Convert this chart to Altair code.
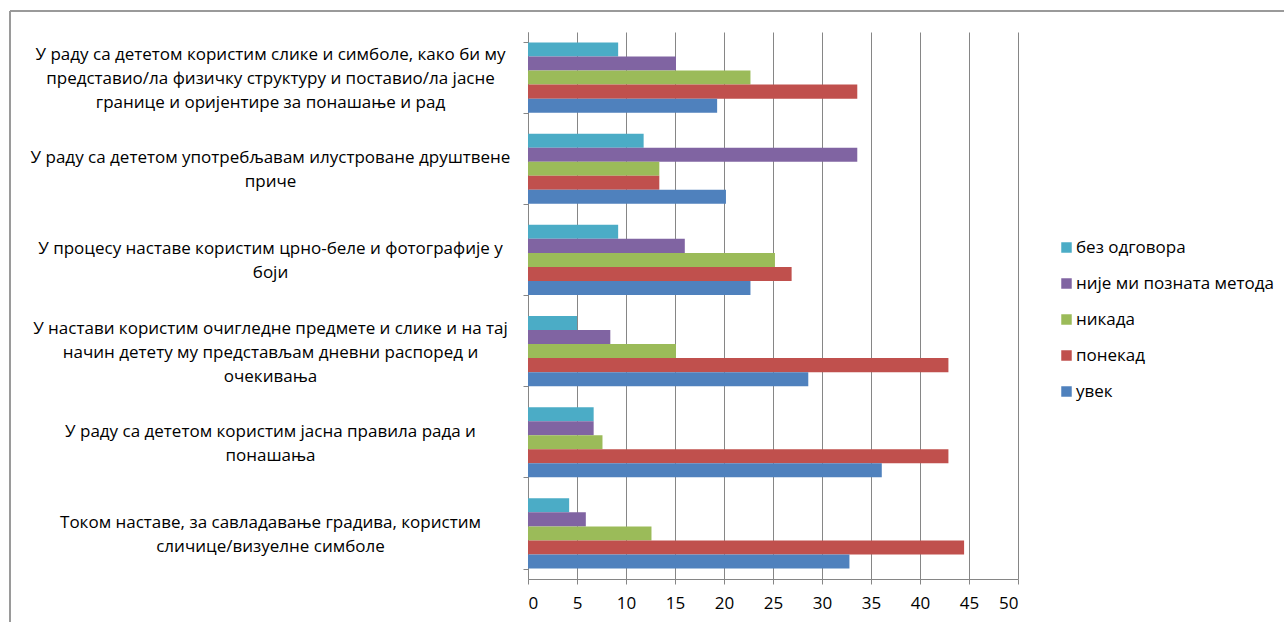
import altair as alt
import pandas as pd

# Survey statements (line breaks mark how each label wraps)
items = [
    "У раду са дететом користим слике и симболе, како би му\nпредставио/ла физичку структуру и поставио/ла јасне\nгранице и оријентире за понашање и рад",
    "У раду са дететом употребљавам илустроване друштвене\nприче",
    "У процесу наставе користим црно-беле и фотографије у\nбоји",
    "У настави користим очигледне предмете и слике и на тај\nначин детету му представљам дневни распоред и\nочекивања",
    "У раду са дететом користим јасна правила рада и\nпонашања",
    "Током наставе, за савладавање градива, користим\nсличице/визуелне симболе",
]

series = ["без одговора", "није ми позната метода", "никада", "понекад", "увек"]
colors = ["#4BACC6", "#8064A2", "#9BBB59", "#C0504D", "#4F81BD"]

# Percentages per answer, one value per statement (same order as items)
bez_odgovora = [9.2, 11.8, 9.2, 5.0, 6.7, 4.2]
nije_poznata = [15.1, 33.6, 16.0, 8.4, 6.7, 5.9]
nikada = [22.7, 13.4, 25.2, 15.1, 7.6, 12.6]
ponekad = [33.6, 13.4, 26.9, 42.9, 42.9, 44.5]
uvek = [19.3, 20.2, 22.7, 28.6, 36.1, 32.8]

x_ticks = [0, 5, 10, 15, 20, 25, 30, 35, 40, 45, 50]

rows = []
for name, vals in zip(series, [bez_odgovora, nije_poznata, nikada, ponekad, uvek]):
    for item, v in zip(items, vals):
        rows.append({"item": item, "answer": name, "value": v})
df = pd.DataFrame(rows)

FONT = "Open Sans"
AXIS_GRAY = "#868686"
LINE_H = 24

# shift multi-line labels up so each block is centred on its band
n_lines = "length(split(datum.label, '\\n'))"
label_offset = {
    "condition": {"test": f"{n_lines} == 3", "value": -LINE_H + 1},
    "value": -LINE_H / 2 + 1,
}

bars = alt.Chart(df).mark_bar().encode(
    x=alt.X(
        "value:Q",
        scale=alt.Scale(domain=[0, 50], nice=False),
        axis=alt.Axis(
            values=x_ticks,
            title=None,
            grid=True,
            gridColor=AXIS_GRAY,
            gridWidth=1,
            domainColor=AXIS_GRAY,
            tickColor=AXIS_GRAY,
            tickSize=5,
            labelFontSize=17,
            labelPadding=11,
            labelColor="#000000",
            labelFont=FONT,
        ),
    ),
    y=alt.Y(
        "item:N",
        sort=items,
        scale=alt.Scale(paddingInner=0.23, paddingOuter=0.115),
        axis=alt.Axis(
            title=None,
            domainColor=AXIS_GRAY,
            tickColor=AXIS_GRAY,
            tickSize=5,
            tickBand="extent",
            labelAlign="center",
            labelBaseline="middle",
            labelPadding=253,
            labelLimit=700,
            labelFontSize=17,
            labelLineHeight=LINE_H,
            labelOffset=label_offset,
            labelFont=FONT,
            labelColor="#000000",
            labelExpr="split(datum.label, '\\n')",
        ),
    ),
    yOffset=alt.YOffset(
        "answer:N",
        sort=series,
        scale=alt.Scale(paddingInner=0, paddingOuter=0),
    ),
    color=alt.Color(
        "answer:N",
        sort=series,
        scale=alt.Scale(domain=series, range=colors),
        legend=alt.Legend(
            title=None,
            orient="none",
            legendX=530,
            legendY=207,
            symbolType="square",
            symbolSize=110,
            symbolStrokeWidth=0,
            labelFontSize=17,
            labelFont=FONT,
            labelColor="#000000",
            labelOffset=1,
            labelLimit=400,
            rowPadding=18,
            padding=0,
        ),
    ),
)

# Outer frame of the chart
frame_left = alt.Chart(df).mark_rule(color="#9a9a9a", strokeWidth=1.5).encode(
    x=alt.value(-518), y=alt.value(-21), y2=alt.value(600)
)
frame_top = alt.Chart(df).mark_rule(color="#9a9a9a", strokeWidth=1.5).encode(
    x=alt.value(-518), x2=alt.value(760), y=alt.value(-21)
)

chart = (
    alt.layer(frame_left, frame_top, bars)
    .properties(
        width=490,
        height=547,
        autosize=alt.AutoSizeParams(type="none"),
        padding={"left": 528, "top": 32, "right": 266, "bottom": 43},
        background="white",
    )
    .configure_view(stroke=None)
)

chart.save("out.html", embed_options={"renderer": "svg", "actions": False})
